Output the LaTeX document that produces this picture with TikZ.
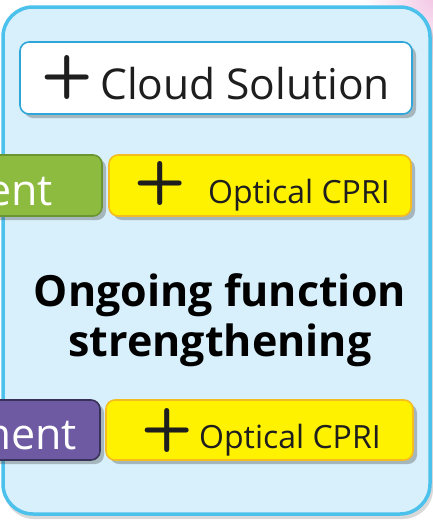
\documentclass[tikz,border=0pt]{standalone}
\usepackage{fontspec}
\setmainfont{Open Sans}
\usetikzlibrary{shadows,positioning}
\definecolor{panelfill}{HTML}{D7F0FB}
\definecolor{paneldraw}{HTML}{4CC1EC}
\definecolor{cloudline}{HTML}{2EA6D9}
\definecolor{yelline}{HTML}{F5BE1E}
\definecolor{grnfill}{HTML}{8DBB3F}
\definecolor{grnline}{HTML}{6A9530}
\definecolor{purfill}{HTML}{6E5AA3}
\definecolor{purline}{HTML}{3A3158}
\definecolor{txt}{HTML}{1E1E1E}
\definecolor{pinkbg}{HTML}{F3C9E6}
\tikzset{
  x=1pt, y=-1pt,
  boxshadow/.style={drop shadow={shadow xshift=4pt, shadow yshift=-4pt, opacity=0.35, fill=black!70}},
  itembox/.style={rounded corners=9pt, line width=1.6pt, boxshadow},
  pluslbl/.style={inner sep=0pt, text=txt, font=\sffamily\bfseries\fontsize{60}{60}\selectfont},
  mainlbl/.style={inner sep=0pt, anchor=base west, text=txt},
  sidelbl/.style={inner sep=0pt, anchor=base east, text=white, font=\fontsize{43}{43}\selectfont}
}
\begin{document}
\begin{tikzpicture}
\useasboundingbox (0,0) rectangle (433,520);
% pink glow top right
\shade[inner color=pinkbg, outer color=white] (433,0) circle (70);
% panel
\fill[black, opacity=0.15, rounded corners=30pt] (4,9) rectangle (433,519);
\draw[line width=3.5pt, draw=paneldraw, fill=panelfill, rounded corners=30pt] (3,7) rectangle (430,514);
% cloud solution box
\draw[itembox, draw=cloudline, fill=white] (20,42) rectangle (412,114);
\node (p1) [pluslbl] at (67.5,77) {+};
\node (cloud) [mainlbl, font=\fontsize{42.5}{42.5}\selectfont] at (100,99) {Cloud Solution};
% green box
\draw[itembox, draw=grnline, fill=grnfill] (-40,155) rectangle (102,216);
\node (grn) [sidelbl] at (53,205) {ent};
% yellow box 1
\draw[itembox, draw=yelline, fill=yellow] (109,155) rectangle (411,216);
\node (p2) [pluslbl] at (160,183) {+};
\node (cpri1) [mainlbl, font=\fontsize{32}{32}\selectfont] at (208,203) {Optical CPRI};
% middle text
\node (mid) [align=center, text=black, font=\bfseries\fontsize{43}{50}\selectfont] at (220,320) {Ongoing function\\strengthening};
% purple box
\draw[itembox, draw=purline, fill=purfill] (-40,400) rectangle (100,460);
\node (pur) [sidelbl] at (77,449) {ment};
% yellow box 2
\draw[itembox, draw=yelline, fill=yellow] (106,400) rectangle (413,460);
\node (p3) [pluslbl] at (167.5,430) {+};
\node (cpri2) [mainlbl, font=\fontsize{32}{32}\selectfont] at (199,448) {Optical CPRI};
\end{tikzpicture}
\end{document}
